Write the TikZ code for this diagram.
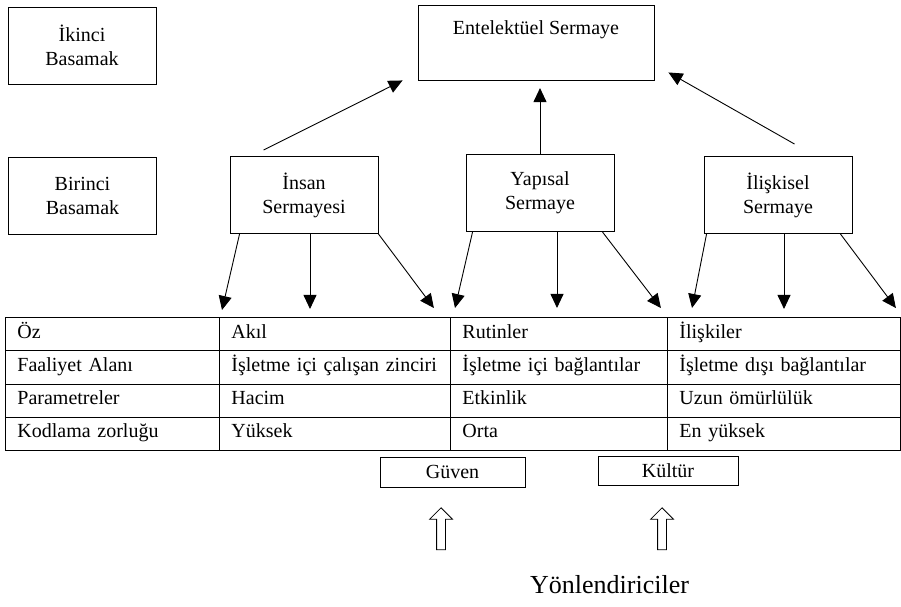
\documentclass[tikz,border=0pt]{standalone}
\usepackage{fontspec}
\setmainfont{Liberation Serif}
\usepackage{tikz}
\usetikzlibrary{arrows.meta,shapes.arrows}

\begin{document}
\begin{tikzpicture}[x=1pt,y=-1pt,->,>={Triangle[length=14pt,width=13pt]},
                    line width=0.9pt]
  \tikzstyle{box}=[rectangle,draw,align=center,minimum width=148pt,minimum height=77pt,
                   font=\fontsize{20}{24}\selectfont]
  \tikzstyle{sbox}=[rectangle,draw,minimum width=145pt,minimum height=30pt,
                   font=\fontsize{20}{24}\selectfont]
  \tikzstyle{cell}=[rectangle,draw,anchor=north west,align=left,inner xsep=12pt,
                   minimum height=33.25pt,text height=14pt,text depth=6pt,
                   font=\fontsize{20}{24}\selectfont]
  \tikzstyle{hollow}=[single arrow,draw,rotate=90,minimum height=42pt,inner sep=4pt,
                   single arrow head extend=7pt,line width=0.8pt]

  \useasboundingbox (0,0) rectangle (901,606);

  \node[box] (ikinci)    at (82,45.5)  {İkinci\\Basamak};
  \node[box] (birinci)   at (82.5,196) {Birinci\\Basamak};
  \node[box] (insan)     at (304,195)  {İnsan\\Sermayesi};
  \node[box] (yapisal)   at (540,193)  {Yapısal\\Sermaye};
  \node[box] (iliskisel) at (778,195)  {İlişkisel\\Sermaye};
  \node[box,minimum width=236pt,minimum height=75pt,
        label={[anchor=north,yshift=-12pt,font=\fontsize{20}{24}\selectfont]north:Entelektüel Sermaye}]
        (ent) at (536,42.5) {};

  % table
  \foreach \r/\ca/\cb/\cc/\cd in {1/Öz/Akıl/Rutinler/İlişkiler,
      2/Faaliyet Alanı/İşletme içi çalışan zinciri/İşletme içi bağlantılar/İşletme dışı bağlantılar,
      3/Parametreler/Hacim/Etkinlik/Uzun ömürlülük,
      4/Kodlama zorluğu/Yüksek/Orta/En yüksek}{
    \node[cell,text width=190pt] (c\r-1) at (5,{317+(\r-1)*33.25})   {\ca};
    \node[cell,text width=207pt] (c\r-2) at (219,{317+(\r-1)*33.25}) {\cb};
    \node[cell,text width=193pt] (c\r-3) at (450,{317+(\r-1)*33.25}) {\cc};
    \node[cell,text width=209pt] (c\r-4) at (667,{317+(\r-1)*33.25}) {\cd};
  }

  \node[sbox] (guven) at (452.5,472) {Güven};
  \node[sbox,minimum width=140pt,minimum height=29pt] (kultur) at (668,470.5) {Kültür};
  \node[hollow] (garr) at (441,531) {};
  \node[hollow] (karr) at (662,531) {};
  \node[font=\fontsize{26}{30}\selectfont,anchor=base] (yon) at (609.5,593) {Yönlendiriciler};

  \path
([xshift=34pt,yshift=6pt]insan.north west)    edge ([xshift=-15pt]ent.south west)
(yapisal.north)                                edge ++(0,-66)
([xshift=91pt,yshift=12pt]iliskisel.north west) edge ([xshift=14pt,yshift=8pt]ent.south east)
([xshift=10pt]insan.south west)      edge ([xshift=3pt,yshift=7pt]c1-2.north west)
([xshift=6pt]insan.south)            edge ++(0,75)
(insan.south east)                   edge ([xshift=-17pt,yshift=9pt]c1-2.north east)
([xshift=7pt]yapisal.south west)     edge ([xshift=5pt,yshift=9pt]c1-3.north west)
([xshift=17pt]yapisal.south)         edge ++(0,76)
([xshift=-12pt]yapisal.south east)   edge ([xshift=-7pt,yshift=9pt]c1-3.north east)
([xshift=3pt]iliskisel.south west)   edge ([xshift=25pt,yshift=9pt]c1-4.north west)
([xshift=6pt]iliskisel.south)        edge ++(0,75)
([xshift=-12pt]iliskisel.south east) edge ([xshift=-5pt,yshift=9pt]c1-4.north east);
\end{tikzpicture}
\end{document}
